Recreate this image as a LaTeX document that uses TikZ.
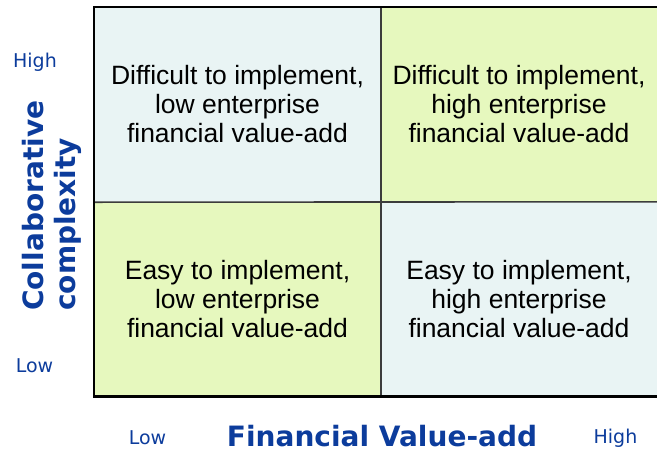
\documentclass[tikz,border=0pt]{standalone}
\usepackage{fontspec}
\setmainfont{Liberation Sans}
\newfontfamily\axisfont{DejaVu Sans}
\definecolor{cellblue}{HTML}{E9F4F4}
\definecolor{cellgreen}{HTML}{E6F8BE}
\definecolor{axisblue}{HTML}{0C3C9C}
\definecolor{gridgray}{HTML}{3C3C3C}
\tikzset{
  cell/.style={draw=none, inner sep=0pt, align=center, text=black,
    font=\fontsize{26.5}{29}\selectfont},
  tick/.style={inner sep=0pt, text=axisblue, font=\axisfont\fontsize{19}{22}\selectfont},
  axistitle/.style={inner sep=0pt, text=axisblue, font=\axisfont\bfseries\fontsize{28}{32}\selectfont},
  divider/.style={draw=gridgray, line width=1.6pt},
  frame/.style={draw=black, line width=2.6pt, line join=miter}
}
\begin{document}
\begin{tikzpicture}[x=1pt, y=-1pt]
\useasboundingbox (0,0) rectangle (657,451);
% four quadrants
\node[cell, fill=cellblue, minimum width=287pt, minimum height=195pt] (tl) at (237.5,104.5)
  {Difficult to implement,\\low enterprise\\financial value-add};
\node[cell, fill=cellgreen, minimum width=276pt, minimum height=195pt] (tr) at (519,104.5)
  {Difficult to implement,\\high enterprise\\financial value-add};
\node[cell, fill=cellgreen, minimum width=287pt, minimum height=194pt] (bl) at (237.5,299)
  {Easy to implement,\\low enterprise\\financial value-add};
\node[cell, fill=cellblue, minimum width=276pt, minimum height=194pt] (br) at (519,299)
  {Easy to implement,\\high enterprise\\financial value-add};
% inner dividers
\draw[divider] (tl.north east) -- (bl.south east);
\draw[divider] (tl.south west) -- (br.north east);
% outer frame: top, left and bottom
\draw[frame] (tr.north east) -- (tl.north west) -- (bl.south west) -- (br.south east);
% axis ticks
\node[tick] (yhigh) at (35,62) {High};
\node[tick] (ylow) at (34.5,366) {Low};
\node[tick] (xlow) at (147.5,438) {Low};
\node[tick] (xhigh) at (615.5,438) {High};
% axis titles
\node[axistitle] (xtitle) at (382,436) {Financial Value-add};
\node[axistitle, rotate=90, anchor=base west, align=left] (ytitle) at (75,311)
  {Collaborative\\complexity};
\end{tikzpicture}
\end{document}
